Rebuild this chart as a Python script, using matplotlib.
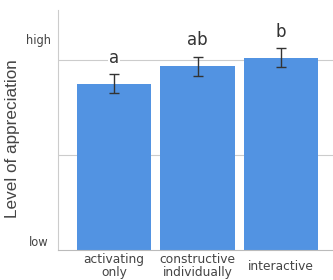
import matplotlib
matplotlib.use('Agg')
import matplotlib.pyplot as plt
from matplotlib.transforms import ScaledTranslation

categories = ['activating\nonly', 'constructive\nindividually', 'interactive']
values = [1.755, 1.94, 2.03]
errors = [0.10, 0.10, 0.095]
letters = ['a', 'ab', 'b']
level_ticks = [0.095, 2.22]
level_labels = ['low', 'high']

plt.rcParams['font.family'] = ['DejaVu Sans']

fig = plt.figure(figsize=(3.33, 2.80), dpi=100)
ax = fig.add_axes([0.174, 0.107, 0.826, 0.857])

x = list(range(len(categories)))
ax.bar(x, values, width=0.89, color='#5293e2', zorder=2)
ax.errorbar(x, values, yerr=errors, fmt='none', ecolor='#333333',
            elinewidth=1, capsize=3.5, capthick=1, zorder=3)

# significance letters, white box breaks the gridline like in the original
for xi, v, e, lab in zip(x, values, errors, letters):
    ax.text(xi, v + e + 0.08, lab, ha='center', va='bottom',
            fontsize=12, color='#333333', zorder=4,
            bbox=dict(facecolor='white', edgecolor='none', pad=1))

for g in (1, 2):
    ax.axhline(g, color='#cccccc', lw=0.8, zorder=1)

ax.set_xlim(-0.67, 2.62)
ax.set_ylim(0, 2.53)
ax.set_xticks(x)
ax.set_xticklabels(categories, fontsize=8.8, color='#444444', linespacing=1.05)
ax.tick_params(axis='x', length=0, pad=2)
# single-line label sits between the two lines of the others
lbl = ax.get_xticklabels()[2]
lbl.set_transform(lbl.get_transform() + ScaledTranslation(0, -7 / 100, fig.dpi_scale_trans))

ax.set_yticks(level_ticks)
ax.set_yticklabels(level_labels, fontsize=8.3, color='#444444', ha='center')
ax.tick_params(axis='y', length=0, pad=14)

for s in ('top', 'right'):
    ax.spines[s].set_visible(False)
ax.spines['left'].set_color('#cccccc')
ax.spines['bottom'].set_color('#bbbbbb')

ax.set_ylabel('Level of appreciation', fontsize=12.3, color='#444444',
              family='Liberation Sans')
ax.yaxis.set_label_coords(-0.138, 0.4625)

fig.savefig('out.png', dpi=100)
